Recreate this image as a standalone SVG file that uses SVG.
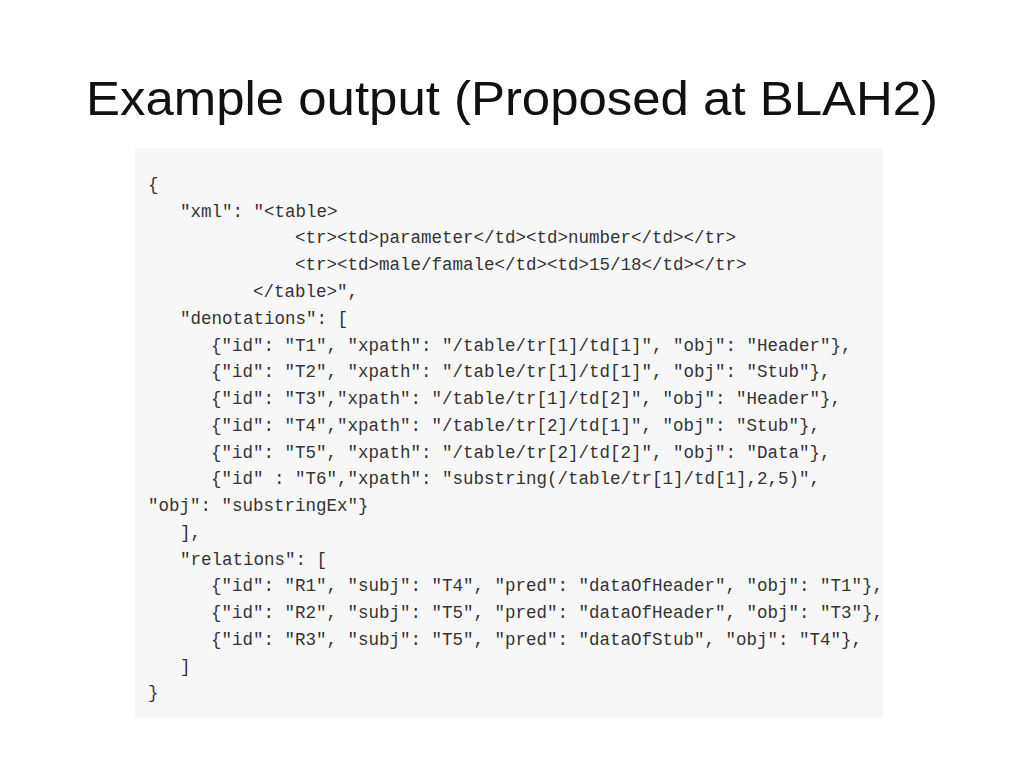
<svg xmlns="http://www.w3.org/2000/svg" width="1024" height="768" viewBox="0 0 1024 768">
<style>
.t{font-family:"Liberation Sans",Arial,sans-serif;font-size:48px;fill:#111}
.c{font-family:"Liberation Mono","DejaVu Sans Mono",monospace;font-size:17.5px;fill:#333}
</style>
<rect width="1024" height="768" fill="#fff"/>
<text class="t" x="86" y="115" textLength="852" lengthAdjust="spacingAndGlyphs">Example output (Proposed at BLAH2)</text>
<rect x="135" y="148" width="748" height="570" fill="#f7f7f7"/>
<g class="c">
<text x="148" y="190">{</text>
<text x="180" y="217">"xml": "&lt;table&gt;</text>
<text x="295" y="243">&lt;tr&gt;&lt;td&gt;parameter&lt;/td&gt;&lt;td&gt;number&lt;/td&gt;&lt;/tr&gt;</text>
<text x="295" y="270">&lt;tr&gt;&lt;td&gt;male/famale&lt;/td&gt;&lt;td&gt;15/18&lt;/td&gt;&lt;/tr&gt;</text>
<text x="253" y="297">&lt;/table&gt;",</text>
<text x="180" y="324">"denotations": [</text>
<text x="211" y="351">{"id": "T1", "xpath": "/table/tr[1]/td[1]", "obj": "Header"},</text>
<text x="211" y="377">{"id": "T2", "xpath": "/table/tr[1]/td[1]", "obj": "Stub"},</text>
<text x="211" y="404">{"id": "T3","xpath": "/table/tr[1]/td[2]", "obj": "Header"},</text>
<text x="211" y="431">{"id": "T4","xpath": "/table/tr[2]/td[1]", "obj": "Stub"},</text>
<text x="211" y="458">{"id": "T5", "xpath": "/table/tr[2]/td[2]", "obj": "Data"},</text>
<text x="211" y="484">{"id" : "T6","xpath": "substring(/table/tr[1]/td[1],2,5)",</text>
<text x="148" y="511">"obj": "substringEx"}</text>
<text x="180" y="538">],</text>
<text x="180" y="565">"relations": [</text>
<text x="211" y="591">{"id": "R1", "subj": "T4", "pred": "dataOfHeader", "obj": "T1"},</text>
<text x="211" y="618">{"id": "R2", "subj": "T5", "pred": "dataOfHeader", "obj": "T3"},</text>
<text x="211" y="645">{"id": "R3", "subj": "T5", "pred": "dataOfStub", "obj": "T4"},</text>
<text x="180" y="672">]</text>
<text x="148" y="698">}</text>
</g>
</svg>
